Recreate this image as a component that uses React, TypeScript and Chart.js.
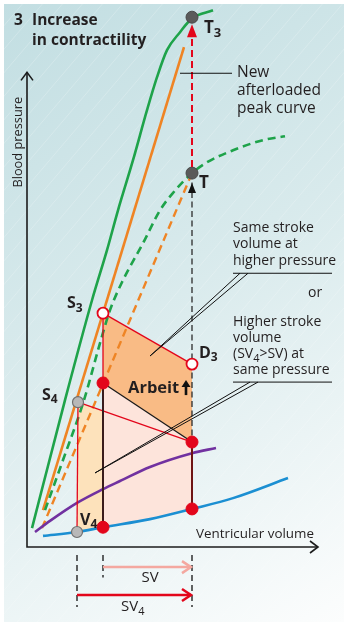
import React, { useEffect, useRef } from "react";
import { Chart, registerables } from "chart.js";
Chart.register(...registerables);

type P = [number, number];

// ---- Data (volume on x, pressure on y, arbitrary units) ----
const newPeakCurve: P[] = [[2.5, 6.3], [19, 49], [32.5, 82.3], [40, 99], [45.5, 112.3], [53, 129], [60, 145.7], [65, 156.7], [70, 165.7], [76.5, 171.7], [82.5, 176.3], [93, 179]];
const oldPeakCurve: P[] = [[9, 12.3], [18, 29], [28.5, 49], [36.5, 68], [41.5, 79], [48, 89], [58, 101.3], [66.5, 112.3], [72.5, 117.7], [82.5, 124.7], [90, 128.3], [103, 132.3], [118, 135.7], [129, 137]];
const newAfterloadLine: P[] = [[8, 12.3], [78.5, 166.7]];
const oldAfterloadLine: P[] = [[7.5, 6.3], [82.5, 124.7]];
const passiveCurve: P[] = [[8, 3.7], [25, 5], [38, 6.6], [61.5, 9.3], [82.5, 12.7], [103, 16.3], [130.5, 23]];
const purpleCurve: P[] = [[4, 5], [11.5, 8.7], [25, 14.7], [38, 19.3], [46.5, 22], [61.5, 26.7], [82.5, 31.3], [94.5, 33]];

const T3: P = [82.5, 176.7];
const T: P = [82.5, 124.7];
const S3: P = [38, 78];
const D3: P = [82.5, 61];
const ES: P = [38, 54.7];
const D: P = [82.5, 35];
const ED: P = [82.5, 12.7];
const EDmid: P = [61.5, 9.3];
const EDS: P = [38, 6.6];
const S4: P = [25.5, 48.3];
const V4: P = [25, 5];

const workArea: P[] = [S3, D3, D, ES, S3];
const originalLoop: P[] = [ES, D, ED, EDmid, EDS, ES];
const s4Loop: P[] = [S4, D, ED, EDmid, EDS, V4, S4];

const X_MAX = 145.5;
const Y_MAX = 180;
const AXIS_Y_TOP = 158.3;
const SV_Y = -6.7;
const SV4_Y = -16;

const FONT = '"Open Sans", "Noto Sans", sans-serif';
const TXT = "#231f20";

const xy = (a: P[]) => a.map(([x, y]) => ({ x, y }));

function arrowHead(ctx: CanvasRenderingContext2D, tx: number, ty: number, dx: number, dy: number, len: number, hw: number, filled: boolean) {
  const nx = -dy, ny = dx;
  const bx = tx - dx * len, by = ty - dy * len;
  ctx.beginPath();
  ctx.moveTo(bx + nx * hw, by + ny * hw);
  ctx.lineTo(tx, ty);
  ctx.lineTo(bx - nx * hw, by - ny * hw);
  if (filled) { ctx.closePath(); ctx.fill(); } else ctx.stroke();
}

const drawPlugin = {
  id: "drawings",
  beforeDraw(chart: any) {
    const ctx: CanvasRenderingContext2D = chart.ctx;
    const W = chart.width, H = chart.height;
    ctx.save();
    ctx.fillStyle = "#ffffff";
    ctx.fillRect(0, 0, W, H);
    const g = ctx.createLinearGradient(4, 4, 344, 622);
    g.addColorStop(0, "#c2dee2");
    g.addColorStop(0.45, "#d8eaec");
    g.addColorStop(1, "#fcfdfd");
    ctx.fillStyle = g;
    ctx.fillRect(4, 4, 340, 618);
    ctx.beginPath();
    ctx.rect(4, 4, 340, 618);
    ctx.clip();
    ctx.strokeStyle = "rgba(255,255,255,0.22)";
    ctx.lineWidth = 1;
    for (let k = -H; k < W + H; k += 20) {
      ctx.beginPath();
      ctx.moveTo(k, H);
      ctx.lineTo(k + H * 0.85, 0);
      ctx.stroke();
    }
    ctx.restore();
  },
  beforeDatasetsDraw(chart: any) {
    const ctx: CanvasRenderingContext2D = chart.ctx;
    const xs = chart.scales.x, ys = chart.scales.y;
    const X = (v: number) => xs.getPixelForValue(v);
    const Y = (v: number) => ys.getPixelForValue(v);
    ctx.save();
    ctx.strokeStyle = "#1c1c1c";
    ctx.lineWidth = 1.6;
    ctx.beginPath();
    ctx.moveTo(X(0), Y(AXIS_Y_TOP));
    ctx.lineTo(X(0), Y(0));
    ctx.lineTo(X(X_MAX), Y(0));
    ctx.stroke();
    arrowHead(ctx, X(0), Y(AXIS_Y_TOP), 0, -1, 8, 6, false);
    arrowHead(ctx, X(X_MAX), Y(0), 1, 0, 8, 6, false);
    ctx.restore();
  },
  afterDatasetsDraw(chart: any) {
    const ctx: CanvasRenderingContext2D = chart.ctx;
    const xs = chart.scales.x, ys = chart.scales.y;
    const X = (v: number) => xs.getPixelForValue(v);
    const Y = (v: number) => ys.getPixelForValue(v);
    ctx.save();

    // red dashed arrow T -> T3
    ctx.strokeStyle = "#e3061b";
    ctx.fillStyle = "#e3061b";
    ctx.lineWidth = 2;
    ctx.setLineDash([7, 4]);
    ctx.beginPath();
    ctx.moveTo(X(T[0]), Y(T[1]) - 6);
    ctx.lineTo(X(T3[0]), Y(T3[1]) + 20);
    ctx.stroke();
    ctx.setLineDash([]);
    arrowHead(ctx, X(T3[0]), Y(T3[1]) + 7, 0, -1, 13, 5, true);

    // black up arrow below T
    ctx.fillStyle = "#111";
    ctx.strokeStyle = "#111";
    arrowHead(ctx, X(T[0]), Y(T[1]) + 10, 0, -1, 10, 4, true);

    // dashed guides below axis
    ctx.lineWidth = 1.3;
    ctx.setLineDash([6, 4]);
    const guides: [number, number][] = [[V4[0], SV4_Y - 4], [ES[0], SV_Y - 3.5], [D[0], SV4_Y - 4]];
    guides.forEach(([gx, gy]) => {
      ctx.beginPath();
      ctx.moveTo(X(gx), Y(-2.7));
      ctx.lineTo(X(gx), Y(gy));
      ctx.stroke();
    });
    ctx.setLineDash([]);

    // SV arrows
    ctx.lineWidth = 2.5;
    ctx.strokeStyle = "#f4a8a0";
    ctx.beginPath();
    ctx.moveTo(X(ES[0]), Y(SV_Y));
    ctx.lineTo(X(D[0]) - 1, Y(SV_Y));
    ctx.stroke();
    arrowHead(ctx, X(D[0]) - 1, Y(SV_Y), 1, 0, 9, 6, false);
    ctx.strokeStyle = "#e3061b";
    ctx.beginPath();
    ctx.moveTo(X(V4[0]), Y(SV4_Y));
    ctx.lineTo(X(D[0]) - 1, Y(SV4_Y));
    ctx.stroke();
    arrowHead(ctx, X(D[0]) - 1, Y(SV4_Y), 1, 0, 9, 6, false);

    // leader lines
    ctx.strokeStyle = "#111";
    ctx.lineWidth = 1;
    const seg = (a: P, b: P) => { ctx.beginPath(); ctx.moveTo(X(a[0]), Y(a[1])); ctx.lineTo(X(b[0]), Y(b[1])); ctx.stroke(); };
    seg([76.5, 158], [102.5, 158]);
    seg([103, 91.3], [152.5, 91.3]);
    seg([61.5, 63.7], [106.5, 91.3]);
    seg([61.5, 63.7], [110.5, 91.3]);
    seg([103, 55], [152.5, 55]);
    seg([34, 24.7], [111.5, 55]);
    seg([34, 24.7], [115.5, 55]);

    // texts
    ctx.fillStyle = TXT;
    ctx.textBaseline = "middle";
    ctx.textAlign = "left";
    const txt = (s: string, x: number, y: number, font: string) => { ctx.font = font; ctx.fillText(s, X(x), Y(y)); };
    const sub = (s: string, sb: string, x: number, y: number, size: number, bold: boolean) => {
      const f = (bold ? "bold " : "") + size + "px " + FONT;
      ctx.font = f;
      ctx.fillText(s, X(x), Y(y));
      const w = ctx.measureText(s).width;
      ctx.font = (bold ? "bold " : "") + Math.round(size * 0.75) + "px " + FONT;
      ctx.fillText(sb, X(x) + w, Y(y) + 5);
      return X(x) + w + ctx.measureText(sb).width;
    };
    const boldT = "bold 15.5px " + FONT;
    txt("3", -6.5, 175.7, boldT);
    txt("Increase", 2.5, 175.7, boldT);
    txt("in contractility", 2.5, 169, boldT);

    sub("T", "3", 88.5, 173, 17, true);
    txt("T", 86, 121.3, "bold 17px " + FONT);
    sub("S", "3", 20, 81.3, 16, true);
    sub("D", "3", 86, 64.7, 16, true);
    sub("S", "4", 7.5, 50.7, 16, true);
    sub("V", "4", 26.5, 9, 16, true);

    txt("Arbeit", 50.5, 53, "bold 16.5px " + FONT);
    // small bold up arrow after Arbeit
    ctx.fillStyle = "#111";
    const ax = X(79.5), ay = Y(53);
    ctx.fillRect(ax - 1.3, ay - 2, 2.6, 9);
    ctx.beginPath();
    ctx.moveTo(ax - 4.5, ay - 1);
    ctx.lineTo(ax, ay - 8);
    ctx.lineTo(ax + 4.5, ay - 1);
    ctx.closePath();
    ctx.fill();
    ctx.fillStyle = TXT;

    const ann = "15.5px " + FONT;
    txt("New", 105, 158.3, ann);
    txt("afterloaded", 105, 152.3, ann);
    txt("peak curve", 105, 146.3, ann);

    const ann2 = "14px " + FONT;
    txt("Same stroke", 103, 106.3, ann2);
    txt("volume at", 103, 101, ann2);
    txt("higher pressure", 103, 95.3, ann2);
    txt("or", 140.5, 84.7, ann2);
    txt("Higher stroke", 103, 75, ann2);
    txt("volume", 103, 69.7, ann2);
    const endX = sub("(SV", "4", 103, 64.3, 14, false);
    ctx.font = ann2;
    ctx.fillText(">SV) at", endX, Y(64.3));
    txt("same pressure", 103, 59, ann2);

    txt("Ventricular volume", 84.5, 4.3, "13.4px " + FONT);
    ctx.textAlign = "center";
    txt("SV", 61.5, -10.3, "15px " + FONT);
    ctx.textAlign = "left";
    sub("SV", "4", 47, -20, 15, false);

    // rotated y-axis title
    ctx.save();
    ctx.translate(X(-4.5), Y(135));
    ctx.rotate(-Math.PI / 2);
    ctx.textAlign = "center";
    ctx.font = "12.8px " + FONT;
    ctx.fillText("Blood pressure", 0, 0);
    ctx.restore();

    ctx.restore();
  },
};

export default function App() {
  const ref = useRef<HTMLCanvasElement | null>(null);
  useEffect(() => {
    if (!ref.current) return;
    const fillDs = (data: P[], color: string) => ({
      data: xy(data), showLine: true, fill: "shape", backgroundColor: color, borderWidth: 0, borderColor: "transparent", pointRadius: 0, tension: 0,
    });
    const lineDs = (data: P[], color: string, width: number, dash: number[] = [], curved = true) => ({
      data: xy(data), showLine: true, fill: false, borderColor: color, borderWidth: width, borderDash: dash, pointRadius: 0,
      tension: curved ? 0.4 : 0, cubicInterpolationMode: curved ? "monotone" : "default", borderCapStyle: "butt",
    });
    const pointDs = (data: P[], bg: string, border: string, r: number, bw: number) => ({
      data: xy(data), showLine: false, fill: false, backgroundColor: bg, borderColor: border, pointBackgroundColor: bg, pointBorderColor: border, pointRadius: r, pointBorderWidth: bw,
    });

    const datasets: any[] = [
      fillDs(s4Loop, "#fde2bb"),
      fillDs(originalLoop, "#fde4db"),
      fillDs(workArea, "#f9bb85"),
      lineDs([T, D], "#2b2b2b", 1.3, [6, 3.5], false),
      lineDs(newPeakCurve, "#1ea34a", 2.6),
      lineDs(newAfterloadLine, "#ef8424", 2.6, [], false),
      lineDs(oldPeakCurve, "#1ea34a", 2.6, [8, 5]),
      lineDs(oldAfterloadLine, "#ef8424", 2.4, [8, 5], false),
      lineDs(passiveCurve, "#1b8fd2", 2.6),
      lineDs(purpleCurve, "#7131a0", 2.6),
      lineDs([S3, D3], "#e3061b", 1.3, [], false),
      lineDs([S3, ES], "#e3061b", 1.3, [], false),
      lineDs([S4, D], "#e3061b", 1.3, [], false),
      lineDs([S4, V4], "#e3061b", 1.3, [], false),
      lineDs([ES, D], "#1a1a1a", 1.3, [], false),
      lineDs([ES, EDS], "#3a1c1c", 2, [], false),
      lineDs([D, ED], "#6e1414", 2, [], false),
      pointDs([T3, T], "#5a5a5a", "#4a4a4a", 6, 1),
      pointDs([S3, D3], "#ffffff", "#e3061b", 5.5, 1.8),
      pointDs([ES, D, ED, EDS], "#e3061b", "#e3061b", 6, 1),
      pointDs([S4, V4], "#b8b8b8", "#707070", 5.5, 1.2),
    ];
    datasets.forEach((d, i) => { d.order = datasets.length - i; d.clip = false; });

    const chart = new Chart(ref.current, {
      type: "line",
      data: { datasets },
      options: {
        animation: false,
        responsive: false,
        devicePixelRatio: 1,
        layout: { padding: { left: 27, right: 30, top: 7, bottom: 81 } },
        scales: {
          x: { type: "linear", min: 0, max: X_MAX, display: false },
          y: { type: "linear", min: 0, max: Y_MAX, display: false },
        },
        plugins: { legend: { display: false }, tooltip: { enabled: false } },
        elements: { line: { fill: false } },
      },
      plugins: [drawPlugin],
    } as any);
    return () => chart.destroy();
  }, []);
  return (
    <div style={{ position: "absolute", left: 0, top: 0, width: 348, height: 628 }}>
      <canvas ref={ref} width={348} height={628} style={{ display: "block", width: 348, height: 628 }} />
    </div>
  );
}
